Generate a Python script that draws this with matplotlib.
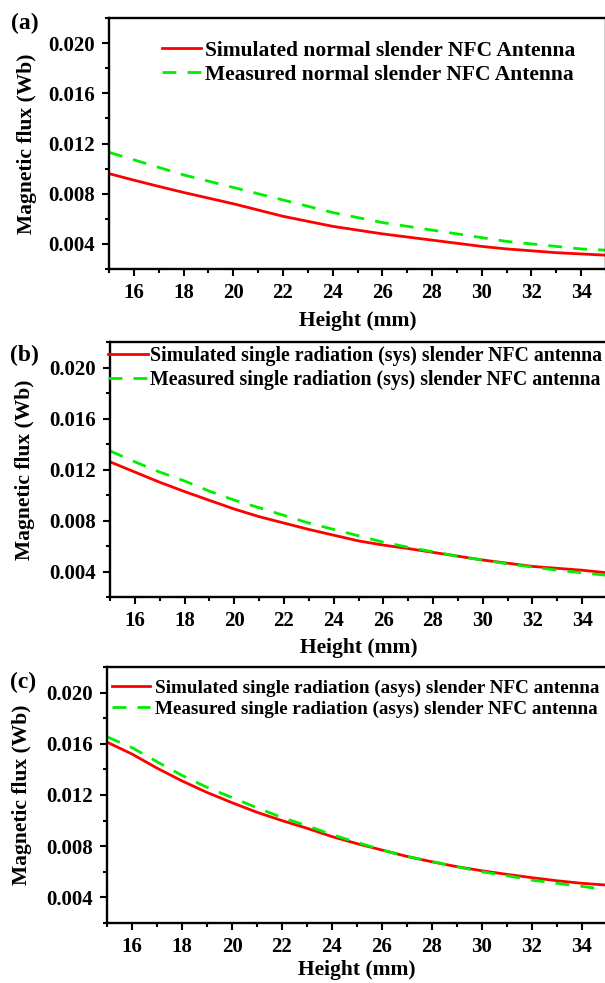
import matplotlib
matplotlib.use("Agg")
import matplotlib.pyplot as plt
from matplotlib.ticker import MultipleLocator, FormatStrFormatter

plt.rcParams["font.family"] = "Liberation Serif"
plt.rcParams["font.weight"] = "bold"

height = [15, 16, 17, 18, 19, 20, 21, 22, 23, 24, 25, 26, 27, 28, 29, 30, 31, 32, 33, 34, 35]

# (a) normal slender antenna
sim_a = [0.0096, 0.00908, 0.00858, 0.0081, 0.00765, 0.0072, 0.0067, 0.0062, 0.0058, 0.0054, 0.0051,
         0.0048, 0.00455, 0.0043, 0.00405, 0.0038, 0.0036, 0.00345, 0.0033, 0.0032, 0.0031]
mea_a = [0.0113, 0.0107, 0.0101, 0.0095, 0.0090, 0.0085, 0.0080, 0.0075, 0.0070, 0.0065, 0.0061,
         0.0057, 0.0054, 0.0051, 0.0048, 0.0045, 0.0042, 0.0040, 0.0038, 0.0036, 0.0035]

# (b) single radiation (sys)
sim_b = [0.0126, 0.0118, 0.0110, 0.01027, 0.00958, 0.0089, 0.0083, 0.0078, 0.0073, 0.00685, 0.0064,
         0.00607, 0.0058, 0.0055, 0.0052, 0.0049, 0.00465, 0.0044, 0.00425, 0.0041, 0.0039]
mea_b = [0.01346, 0.0126, 0.0118, 0.0111, 0.0103, 0.0096, 0.0090, 0.0084, 0.0078, 0.0073, 0.0068,
         0.0063, 0.0059, 0.00555, 0.0052, 0.0049, 0.0046, 0.00435, 0.0041, 0.0039, 0.0037]

# (c) single radiation (asys)
sim_c = [0.01613, 0.0152, 0.0141, 0.0131, 0.0122, 0.0114, 0.01065, 0.0100, 0.0094, 0.00875, 0.0082,
         0.0077, 0.0072, 0.00678, 0.0064, 0.00608, 0.0058, 0.00554, 0.0053, 0.0051, 0.00496]
mea_c = [0.01655, 0.0157, 0.0146, 0.01353, 0.0126, 0.0118, 0.0110, 0.01024, 0.0096, 0.0089, 0.0083,
         0.0077, 0.0072, 0.0068, 0.0064, 0.0060, 0.0057, 0.00535, 0.0051, 0.00486, 0.0046]

labels_a = ["Simulated normal slender NFC Antenna", "Measured normal slender NFC Antenna"]
labels_b = ["Simulated single radiation (sys) slender NFC antenna",
            "Measured single radiation (sys) slender NFC antenna"]
labels_c = ["Simulated single radiation (asys) slender NFC antenna",
            "Measured single radiation (asys) slender NFC antenna"]

W, H = 605, 983
fig = plt.figure(figsize=(W / 100, H / 100), dpi=100)


def panel(box, sim, mea, labels, tag, ylab_x, xpad, leg_xy, leg_fs, handlelen, textpad):
    left, right, top, bottom = box
    ax = fig.add_axes([left / W, 1 - bottom / H, (right - left) / W, (bottom - top) / H])
    ax.plot(height, sim, color="#ff0000", linewidth=2, label=labels[0])
    ax.plot(height, mea, color="#00ee00", linewidth=2, linestyle=(0, (5, 4)), label=labels[1])
    ax.set_xlim(15, 35)
    ax.set_ylim(0.002, 0.022)
    ax.set_xticks([16, 18, 20, 22, 24, 26, 28, 30, 32, 34])
    ax.xaxis.set_minor_locator(MultipleLocator(1))
    ax.set_yticks([0.004, 0.008, 0.012, 0.016, 0.020])
    ax.yaxis.set_minor_locator(MultipleLocator(0.002))
    ax.yaxis.set_major_formatter(FormatStrFormatter("%.3f"))
    ax.tick_params(which="major", direction="out", length=5, width=1.5, labelsize=15, pad=5)
    ax.tick_params(which="minor", direction="out", length=3, width=1.5)
    for s in ax.spines.values():
        s.set_linewidth(1.7)
    ax.set_xlabel("Height (mm)", fontsize=15.5, fontweight="bold", labelpad=xpad)
    ax.set_ylabel("Magnetic flux (Wb)", fontsize=15.5, fontweight="bold")
    ax.yaxis.set_label_coords((ylab_x - left) / (right - left), 0.5)
    ax.legend(loc="center left", bbox_to_anchor=leg_xy, frameon=False, fontsize=leg_fs,
              handlelength=handlelen, handletextpad=textpad, labelspacing=0.2,
              borderpad=0, borderaxespad=0)
    fig.text(tag[0] / W, 1 - tag[1] / H, tag[2], fontsize=17, fontweight="bold",
             ha="left", va="center")
    return ax


panel((109, 606, 18, 269), sim_a, mea_a, labels_a, (11, 23, "(a)"), 37, 6,
      (0.107, 0.822), 15.5, 1.8, 0.2)
panel((110, 607, 342, 597), sim_b, mea_b, labels_b, (10, 355, "(b)"), 35, 5,
      (-0.004, 0.897), 14.3, 2.0, 0.1)
panel((107, 607, 667, 923), sim_c, mea_c, labels_c, (10, 682, "(c)"), 32, 2,
      (0.01, 0.876), 13.8, 2.0, 0.26)

fig.savefig("out.png", dpi=100)
